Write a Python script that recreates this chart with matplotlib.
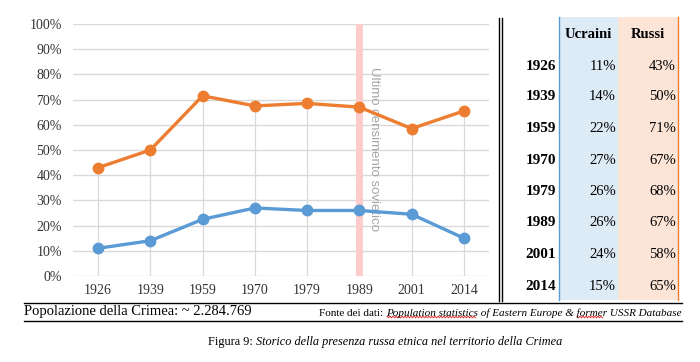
import matplotlib
matplotlib.use("Agg")
import matplotlib.pyplot as plt
from matplotlib.lines import Line2D
from matplotlib.patches import Rectangle

years = ["1926", "1939", "1959", "1970", "1979", "1989", "2001", "2014"]
ucraini = [11, 14, 22.5, 27, 26, 26, 24.5, 15]
russi = [43, 50, 71.5, 67.5, 68.5, 67, 58.5, 65.5]
table_ucraini = ["11%", "14%", "22%", "27%", "26%", "26%", "24%", "15%"]
table_russi = ["43%", "50%", "71%", "67%", "68%", "67%", "58%", "65%"]
yticks = [0, 10, 20, 30, 40, 50, 60, 70, 80, 90, 100]

W, H = 700, 362
fig = plt.figure(figsize=(W / 100, H / 100), dpi=100)
fig.patch.set_facecolor("white")

def fx(px):
    return px / W

def fy(py):
    return 1 - py / H

SERIF = "Liberation Serif"
BLUE = "#5B9BD5"
ORANGE = "#ED7D31"

# ---- chart axes ----
ax_l, ax_r, ax_t, ax_b = 73, 489, 24, 276
ax = fig.add_axes([fx(ax_l), fy(ax_b), fx(ax_r - ax_l), (ax_b - ax_t) / H])
x = list(range(len(years)))
ax.set_xlim(-0.48, len(years) - 0.52)
ax.set_ylim(0, 100)
for s in ax.spines.values():
    s.set_visible(False)
ax.set_yticks(yticks)
ax.set_yticklabels([f"{v}%" for v in yticks], fontfamily=SERIF, fontsize=10, color="#333333")
ax.set_xticks(x)
ax.set_xticklabels(years, fontfamily=SERIF, fontsize=10, color="#333333")
ax.tick_params(length=0, pad=8)
ax.tick_params(axis="x", pad=6)
for v in yticks:
    ax.axhline(v, color="#d9d9d9", lw=1.0, zorder=0)
# drop lines
for i in x:
    ax.plot([i, i], [0, max(ucraini[i], russi[i])], color="#d9d9d9", lw=0.9, zorder=0)

# pink band at 1989
ax.axvspan(5 - 0.07, 5 + 0.07, color="#ffcccc", lw=0, zorder=0.5)
ax.text(5.27, 83, "Ultimo censimento sovietico", rotation=-90, ha="center", va="top",
        fontsize=9.5, color="#a6a6a6", fontfamily="Liberation Sans", zorder=1)

ax.plot(x, ucraini, color=BLUE, lw=2.4, marker="o", ms=7.5, zorder=3)
ax.plot(x, russi, color=ORANGE, lw=2.4, marker="o", ms=7.5, zorder=3)

# ---- double vertical separator ----
for px_ in (498.5, 501.5):
    fig.add_artist(Line2D([fx(px_), fx(px_)], [fy(18), fy(301)], color="black", lw=1.0))

# ---- table ----
fig.add_artist(Rectangle((fx(559), fy(300)), fx(618 - 559), (300 - 17) / H,
                         facecolor="#DDEBF7", edgecolor="none"))
fig.add_artist(Rectangle((fx(618), fy(300)), fx(678 - 618), (300 - 17) / H,
                         facecolor="#FCE4D6", edgecolor="none"))
fig.add_artist(Line2D([fx(559), fx(559)], [fy(17), fy(300)], color=BLUE, lw=1.0))
fig.add_artist(Line2D([fx(678), fx(678)], [fy(17), fy(300)], color=ORANGE, lw=1.0))
fig.text(fx(588.5), fy(34), "Ucraini", ha="center", va="center", fontfamily=SERIF,
         fontweight="bold", fontsize=10.5)
fig.text(fx(648), fy(34), "Russi", ha="center", va="center", fontfamily=SERIF,
         fontweight="bold", fontsize=10.5)
row_y = [66, 97, 128, 160, 191, 222, 254, 286]
for yr, u, r, ry in zip(years, table_ucraini, table_russi, row_y):
    fig.text(fx(556), fy(ry), yr, ha="right", va="center", fontfamily=SERIF,
             fontweight="bold", fontsize=11)
    fig.text(fx(616), fy(ry), u, ha="right", va="center", fontfamily=SERIF, fontsize=10.5)
    fig.text(fx(676), fy(ry), r, ha="right", va="center", fontfamily=SERIF, fontsize=10.5)

# ---- bottom lines and notes ----
fig.add_artist(Line2D([fx(24), fx(682)], [fy(303), fy(303)], color="black", lw=1.0))
fig.add_artist(Line2D([fx(24), fx(682)], [fy(321), fy(321)], color="black", lw=1.0))
fig.text(fx(24), fy(312), "Popolazione della Crimea: ~ 2.284.769", ha="left", va="center",
         fontfamily=SERIF, fontsize=10.5)
t1 = fig.text(fx(319), fy(313), "Fonte dei dati: ", ha="left", va="center",
              fontfamily=SERIF, fontsize=8)
fig.canvas.draw()
bb = t1.get_window_extent()
fig.text(bb.x1 / W, fy(313), "Population statistics of Eastern Europe & former USSR Database",
         ha="left", va="center", fontfamily=SERIF, fontstyle="italic", fontsize=8)

# spell-check squiggles
def squiggle(x0, x1, yc):
    xs, ys = [], []
    k = 0
    p = x0
    while p <= x1:
        xs.append(fx(p))
        ys.append(fy(yc + (0.8 if k % 2 else -0.8)))
        p += 1.5
        k += 1
    fig.add_artist(Line2D(xs, ys, color="#e03030", lw=0.7))

squiggle(387, 476, 317)
squiggle(577, 603, 317)

c1 = fig.text(fx(208), fy(342), "Figura 9: ", ha="left", va="center",
              fontfamily=SERIF, fontsize=8.8)
fig.canvas.draw()
bb = c1.get_window_extent()
fig.text(bb.x1 / W, fy(342), "Storico della presenza russa etnica nel territorio della Crimea",
         ha="left", va="center", fontfamily=SERIF, fontstyle="italic", fontsize=8.8)

fig.savefig("out.png", dpi=100, facecolor="white")
